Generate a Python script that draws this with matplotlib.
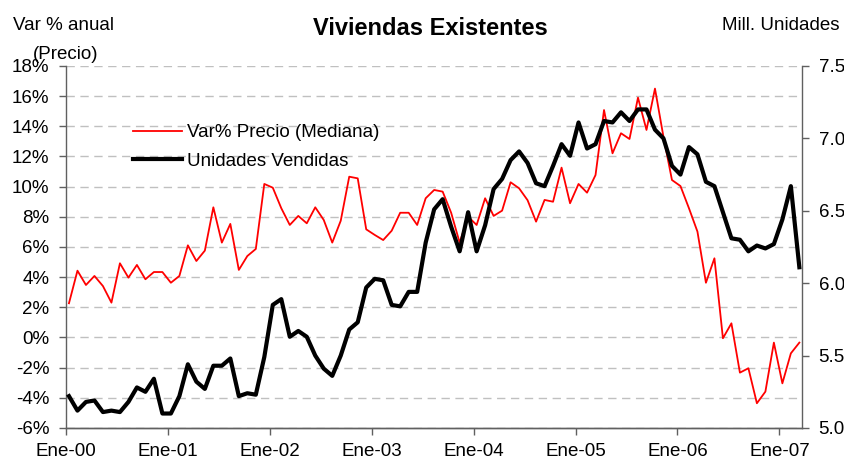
import numpy as np
import matplotlib
matplotlib.use("Agg")
import matplotlib.pyplot as plt
from matplotlib.ticker import FuncFormatter

plt.rcParams['font.family'] = ['Liberation Sans', 'DejaVu Sans']

# monthly data, Ene-00 .. Mar-07
precio = [2.27, 4.43, 3.48, 4.08, 3.41, 2.31, 4.92, 3.97, 4.81, 3.86, 4.34, 4.34,
          3.63, 4.08, 6.11, 5.07, 5.76, 8.63, 6.29, 7.53, 4.48, 5.40, 5.87, 10.18,
          9.93, 8.57, 7.46, 8.06, 7.57, 8.63, 7.79, 6.29, 7.74, 10.66, 10.55, 7.17,
          6.80, 6.46, 7.08, 8.27, 8.27, 7.46, 9.23, 9.78, 9.67, 8.27, 6.29, 8.01,
          7.46, 9.23, 8.06, 8.41, 10.29, 9.89, 9.10, 7.68, 9.12, 9.00, 11.26, 8.90,
          10.18, 9.60, 10.77, 15.08, 12.21, 13.54, 13.16, 15.90, 13.76, 16.50, 13.30, 10.44,
          10.04, 8.57, 7.02, 3.63, 5.25, -0.05, 0.94, -2.33, -2.04, -4.36, -3.59, -0.34,
          -3.04, -1.05, -0.34]

unidades = [5.22, 5.12, 5.18, 5.19, 5.11, 5.12, 5.11, 5.18, 5.28, 5.25, 5.34, 5.10,
            5.10, 5.22, 5.44, 5.32, 5.27, 5.43, 5.43, 5.48, 5.22, 5.24, 5.23, 5.49,
            5.85, 5.89, 5.63, 5.67, 5.63, 5.50, 5.41, 5.36, 5.50, 5.68, 5.73, 5.97,
            6.03, 6.02, 5.85, 5.84, 5.94, 5.94, 6.28, 6.51, 6.58, 6.39, 6.22, 6.49,
            6.22, 6.40, 6.65, 6.72, 6.85, 6.91, 6.83, 6.69, 6.67, 6.81, 6.96, 6.88,
            7.11, 6.93, 6.96, 7.12, 7.11, 7.18, 7.12, 7.20, 7.20, 7.06, 7.00, 6.81,
            6.75, 6.94, 6.89, 6.70, 6.67, 6.49, 6.31, 6.30, 6.22, 6.26, 6.24, 6.27,
            6.44, 6.67, 6.11]

tick_labels = ["Ene-00", "Ene-01", "Ene-02", "Ene-03", "Ene-04", "Ene-05", "Ene-06", "Ene-07"]

x = np.arange(len(precio))

fig = plt.figure(figsize=(8.45, 4.63), dpi=100)
ax = fig.add_axes([0.0781, 0.0756, 0.8709, 0.7819])
ax2 = ax.twinx()

l1, = ax.plot(x, precio, color='red', lw=1.3)
l2, = ax2.plot(x, unidades, color='black', lw=3.0)

ax.set_xlim(-0.35, 86.3)
ax.set_ylim(-6, 18)
ax.set_yticks(np.arange(-6, 19, 2))
ax.yaxis.set_major_formatter(FuncFormatter(lambda v, p: "%d%%" % v))
ax2.set_ylim(5.0, 7.5)
ax2.set_yticks(np.arange(5.0, 7.51, 0.5))
ax2.yaxis.set_major_formatter(FuncFormatter(lambda v, p: "%.1f" % v))

ax.set_xticks(np.arange(0, 87, 12) - 0.35)
ax.set_xticklabels(tick_labels)

ax.grid(axis='y', color='#c0c0c0', ls=(0, (6, 4)), lw=1.0)
ax.set_axisbelow(True)

for a in (ax, ax2):
    a.spines['top'].set_visible(False)
    for s in a.spines.values():
        s.set_color('#606060')
        s.set_linewidth(1.0)
    a.tick_params(labelsize=13.5, length=5, width=1.0, color='#606060', pad=7)
ax2.spines['left'].set_visible(False)
ax.spines['right'].set_visible(False)
ax.tick_params(axis='x', pad=6)

ax2.legend([l1, l2], ["Var% Precio (Mediana)", "Unidades Vendidas"],
           loc='upper left', bbox_to_anchor=(0.068, 0.886), frameon=False,
           fontsize=13.5, handlelength=2.6, handletextpad=0.3, labelspacing=0.62)

fig.text(0.509, 0.939, "Viviendas Existentes", ha='center', va='center',
         fontsize=17, fontweight='bold')
fig.text(0.015, 0.946, "Var % anual", ha='left', va='center', fontsize=13.5)
fig.text(0.039, 0.883, "(Precio)", ha='left', va='center', fontsize=13.5)
fig.text(0.994, 0.946, "Mill. Unidades", ha='right', va='center', fontsize=13.5)

fig.savefig("out.png", dpi=100)
